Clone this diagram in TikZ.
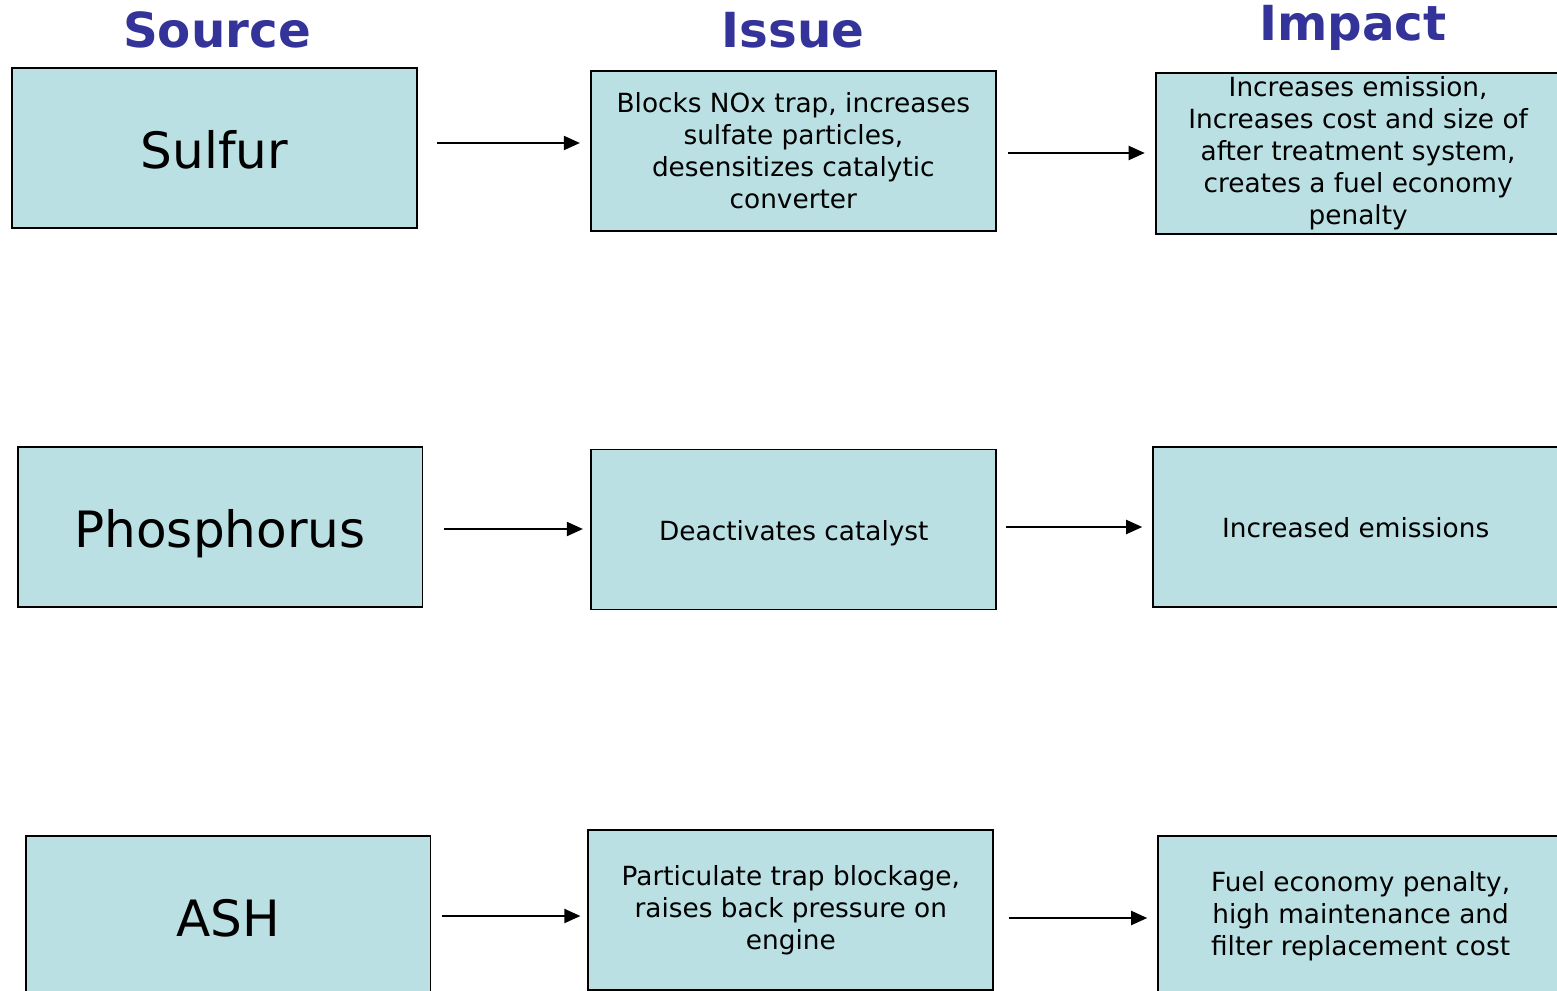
\documentclass[tikz,border=0pt]{standalone}
\usepackage{fontspec}
\setmainfont{DejaVu Sans}
\usetikzlibrary{positioning, arrows.meta}
\definecolor{boxfill}{HTML}{BAE0E3}
\definecolor{headblue}{HTML}{333399}

\tikzset{
  box/.style={draw, line width=1.1pt, fill=boxfill, minimum width=8.1cm, minimum height=3.2cm, inner sep=2pt, align=center},
  srcbox/.style={box, text height=28.5pt, text depth=5.7pt, font=\fontsize{28.5}{34}\selectfont},
  txtbox/.style={box, font=\fontsize{15}{18.2}\selectfont},
  oneline/.style={text height=15pt, text depth=3pt},
  head/.style={text=headblue, font=\fontsize{27.5}{33}\selectfont\bfseries},
  flow/.style={-{Triangle[length=0.32cm, width=0.28cm]}, line width=1.1pt, shorten <=0.3cm, shorten >=0.2cm}
}

\begin{document}
\begin{tikzpicture}[x=0.02cm, y=-0.02cm]
      \clip (0,0) rectangle (1557,990);
      % column heads
      \node[head] (hsrc) at (217,30) {Source};
      \node[head] (hiss) at (793,30) {Issue};
      \node[head] (himp) at (1353,28) {Impact};

      % sulfur
      \node[srcbox] (s1) at (214.5,148) {Sulfur};
      \node[txtbox] (i1) [right=3.44cm of s1, yshift=-0.06cm] {Blocks NOx trap, increases\\sulfate particles,\\desensitizes catalytic\\converter};
      \node[txtbox] (m1) [right=3.16cm of i1, yshift=-0.05cm] {Increases emission,\\Increases cost and size of\\after treatment system,\\creates a fuel economy\\penalty};

      % phosphorus
      \node[srcbox] (s2) at (220,527) {Phosphorus};
      \node[txtbox, oneline] (i2) [right=3.34cm of s2, yshift=-0.05cm] {Deactivates catalyst};
      \node[txtbox, oneline] (m2) [right=3.10cm of i2, yshift=0.05cm] {Increased emissions};

      % ash
      \node[srcbox] (s3) at (228,916) {ASH};
      \node[txtbox] (i3) [right=3.12cm of s3, yshift=0.12cm] {Particulate trap blockage,\\raises back pressure on\\engine};
      \node[txtbox] (m3) [right=3.26cm of i3, yshift=-0.12cm] {Fuel economy penalty,\\high maintenance and\\filter replacement cost};

      \draw[flow, shorten <=0.38cm] ([yshift=0.1cm]s1.east) -- ([yshift=0.1cm]s1.east -| i1.west);
      \draw[flow, shorten <=0.22cm] ([yshift=-0.04cm]i1.east) -- ([yshift=-0.04cm]i1.east -| m1.west);
      \draw[flow, shorten <=0.42cm, shorten >=0.15cm] ([yshift=-0.04cm]s2.east) -- ([yshift=-0.04cm]s2.east -| i2.west);
      \draw[flow, shorten <=0.18cm] (m2.west -| i2.east) -- (m2.west);
      \draw[flow, shorten <=0.22cm, shorten >=0.14cm] (s3.east) -- (s3.east -| i3.west);
      \draw[flow] ([yshift=-0.04cm]m3.west -| i3.east) -- ([yshift=-0.04cm]m3.west);
    \end{tikzpicture}
\end{document}
